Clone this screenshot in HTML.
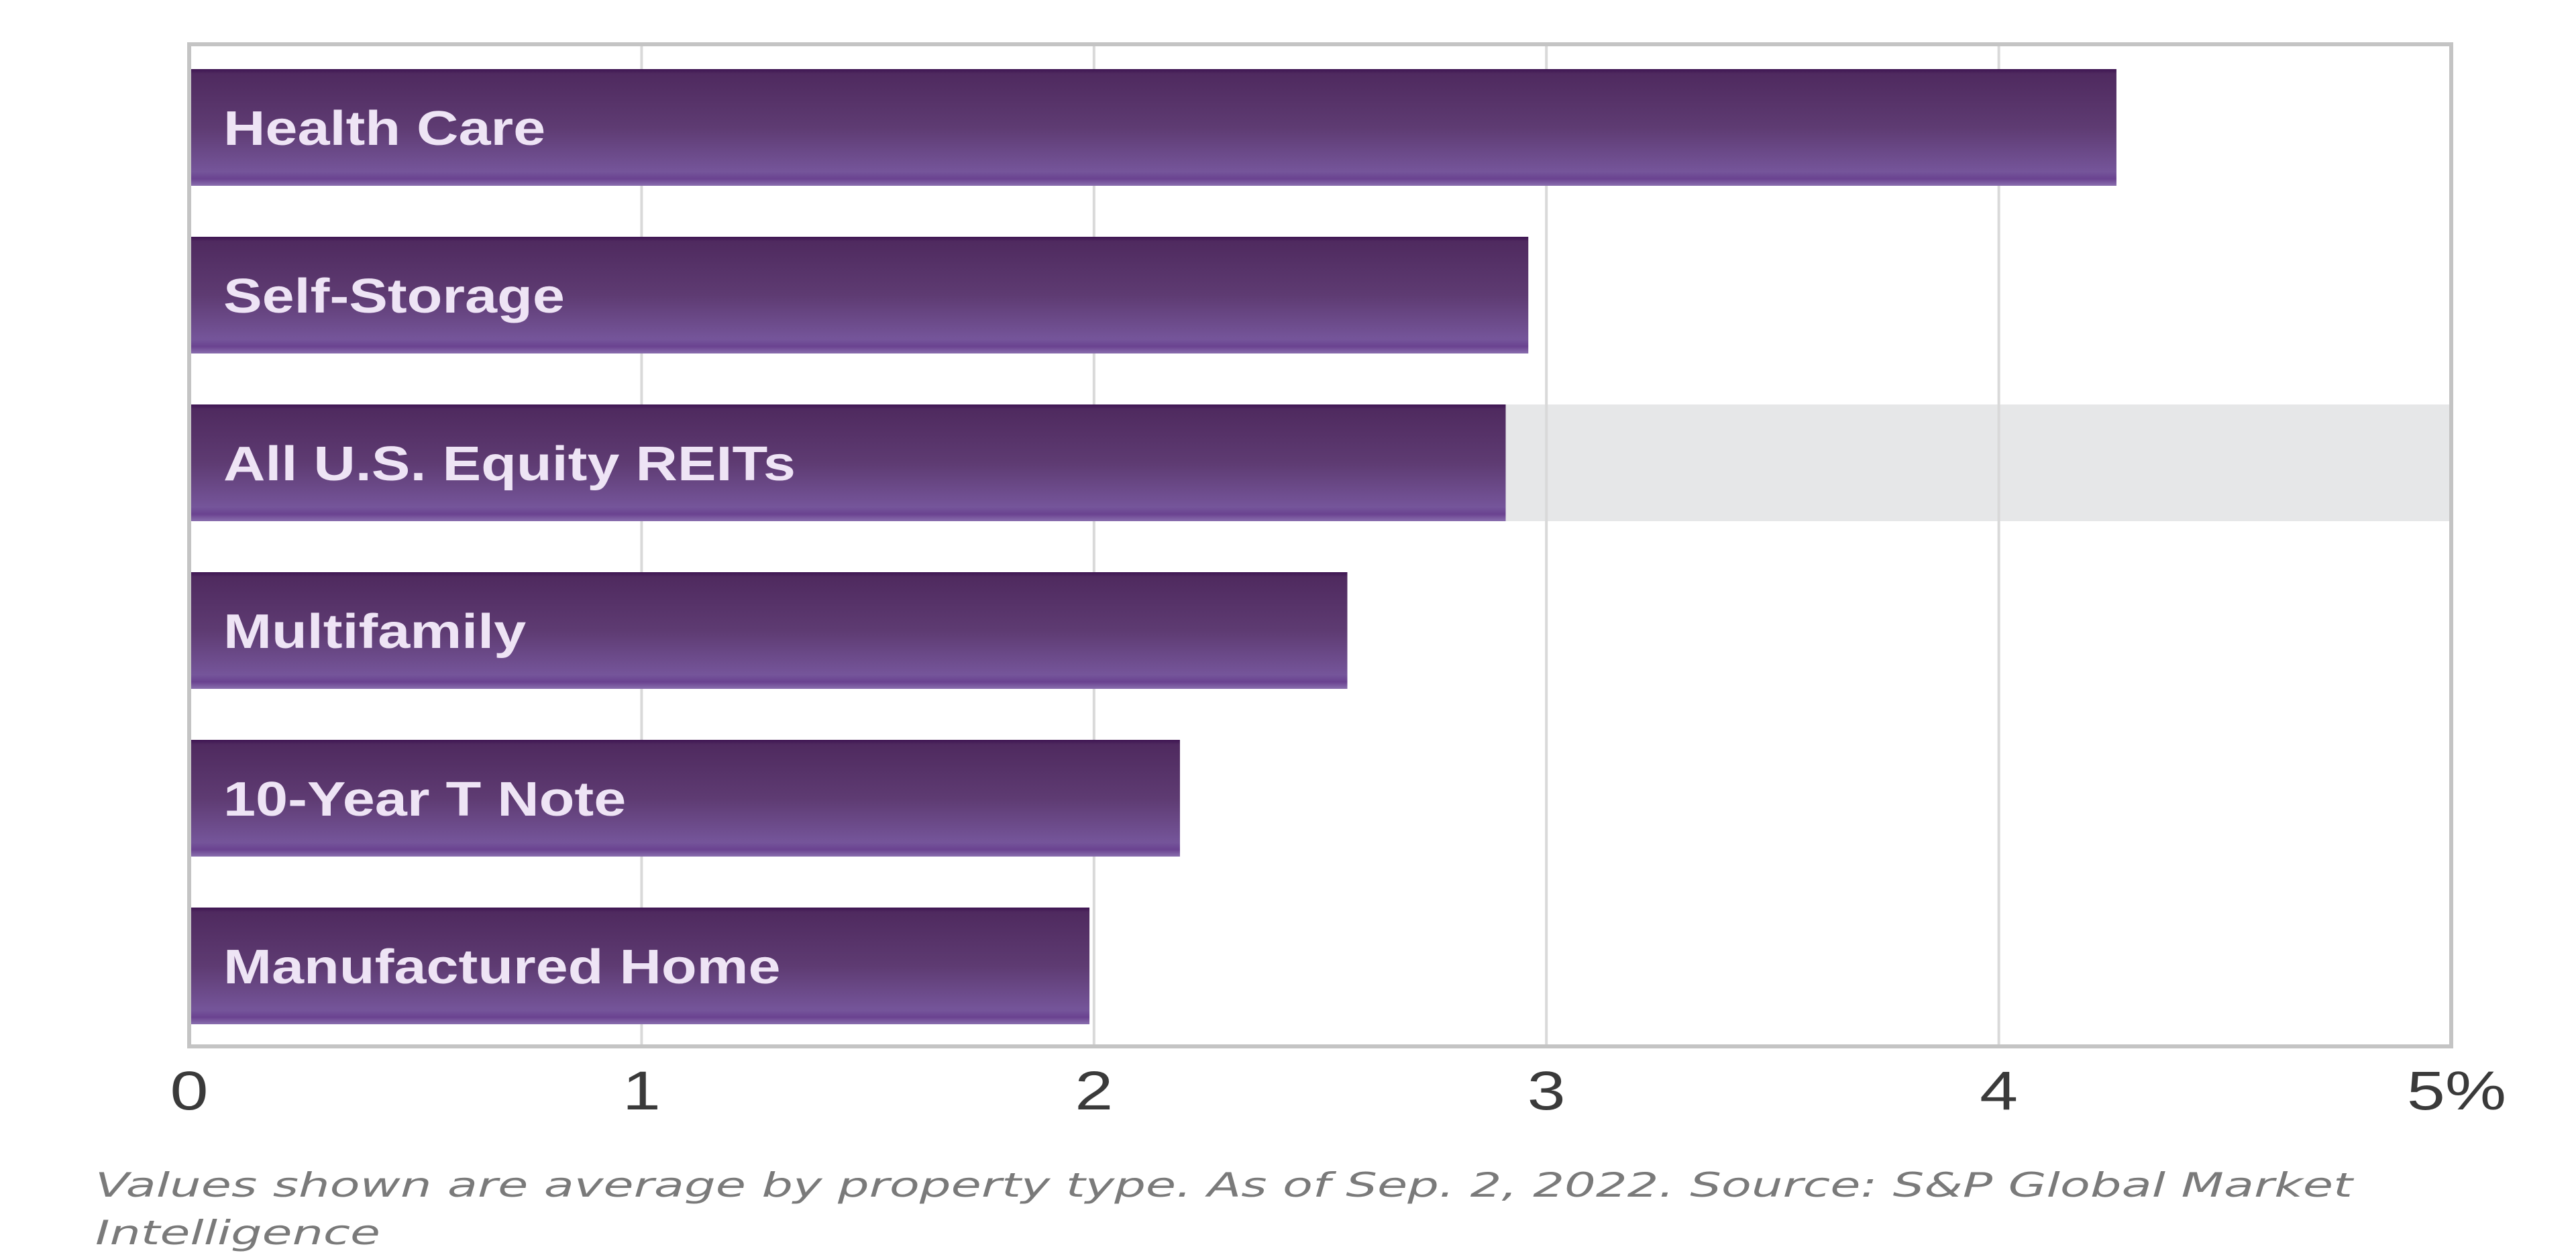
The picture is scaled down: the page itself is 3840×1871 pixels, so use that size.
<!DOCTYPE html>
<html><head><meta charset="utf-8"><style>html,body{margin:0;padding:0;background:#fff;}svg{display:block;}</style></head>
<body>
<svg id="chart" width="3840" height="1871" viewBox="0 0 3840 1871" xmlns="http://www.w3.org/2000/svg">
<defs>
<linearGradient id="barGrad" x1="0" y1="0" x2="0" y2="1">
<stop offset="0" stop-color="#3e1552"/>
<stop offset="0.04" stop-color="#4f2a5f"/>
<stop offset="0.5" stop-color="#5e3b72"/>
<stop offset="0.88" stop-color="#75559a"/>
<stop offset="0.94" stop-color="#6a4290"/>
<stop offset="1" stop-color="#8a6fae"/>
</linearGradient>
</defs>
<g id="grid"></g>
<g id="bars"></g>
<g id="frame"></g>
<g id="ticks"></g>
<text x="142" y="1784" font-family="'DejaVu Sans', sans-serif" font-style="italic" font-size="50" fill="#7a7a7a" textLength="3365" lengthAdjust="spacingAndGlyphs">Values shown are average by property type. As of Sep. 2, 2022. Source: S&amp;P Global Market</text>
<text x="142" y="1855" font-family="'DejaVu Sans', sans-serif" font-style="italic" font-size="50" fill="#7a7a7a" textLength="425" lengthAdjust="spacingAndGlyphs">Intelligence</text>
</svg>
<script>
const categories = ["Health Care","Self-Storage","All U.S. Equity REITs","Multifamily","10-Year T Note","Manufactured Home"];
const values = [4.26, 2.96, 2.91, 2.56, 2.19, 1.99];
const highlighted = [false, false, true, false, false, false];
const tickValues = [0,1,2,3,4,5];
const tickLabels = ["0","1","2","3","4","5%"];

const NS = "http://www.w3.org/2000/svg";
const L = 282, R = 3654, T = 66, B = 1560, xMax = 5;
const x = v => L + (R - L) * v / xMax;
const rowTop = i => 103 + i * 250;
const barH = 174;
function mk(tag, attrs, parent){ const e = document.createElementNS(NS, tag); for (const k in attrs) e.setAttribute(k, attrs[k]); parent.appendChild(e); return e; }

const grid = document.getElementById('grid');
const bars = document.getElementById('bars');
const frame = document.getElementById('frame');
const ticks = document.getElementById('ticks');

categories.forEach((c, i) => {
  if (highlighted[i]) {
    const band = mk('rect', {x: x(values[i]), y: rowTop(i), width: R - x(values[i]), height: barH, fill: '#e6e7e8'}, grid);
    
    
  }
});
tickValues.forEach((t, i) => {
  if (t > 0 && t < xMax) {
    const g = mk('line', {x1: x(t), x2: x(t), y1: T, y2: B, stroke: '#d9d9d9', 'stroke-width': 4}, grid);
    
    
  }
  const tl = mk('text', {x: x(t) + (i === tickValues.length - 1 ? 8 : 0), y: 1654, 'text-anchor': 'middle', 'font-family': "'Liberation Sans', sans-serif", 'font-size': 82, fill: '#3a3a3a'}, ticks);
  tl.textContent = tickLabels[i];
  
  
  const w = tl.getComputedTextLength();
  tl.setAttribute('textLength', w * 1.25);
  tl.setAttribute('lengthAdjust', 'spacingAndGlyphs');
});
categories.forEach((c, i) => {
  const r = mk('rect', {x: L, y: rowTop(i), width: x(values[i]) - L, height: barH, fill: 'url(#barGrad)'}, bars);
  
  
  const t = mk('text', {x: 333, y: rowTop(i) + barH / 2 + 26, 'font-family': "'Liberation Sans', sans-serif", 'font-weight': 'bold', 'font-size': 72, fill: '#eee4f5'}, bars);
  t.textContent = c;
  
  
  const w = t.getComputedTextLength();
  t.setAttribute('textLength', w * 1.2);
  t.setAttribute('lengthAdjust', 'spacingAndGlyphs');
});
const fr = mk('rect', {x: L, y: T, width: R - L, height: B - T, fill: 'none', stroke: '#c4c4c4', 'stroke-width': 6}, frame);


</script>
</body></html>
